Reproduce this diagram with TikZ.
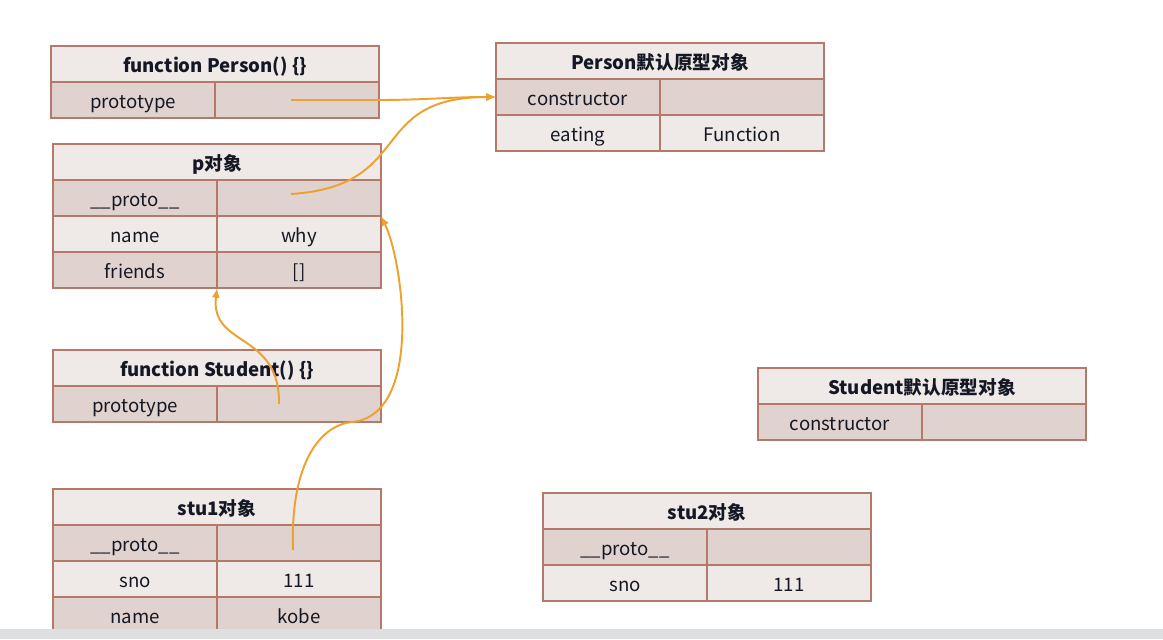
\documentclass[tikz,border=0pt]{standalone}
\usepackage{fontspec}
\setmainfont{Noto Sans CJK SC}
\usepackage{xcolor}
\usetikzlibrary{arrows.meta,positioning,calc}

\definecolor{edge}{HTML}{B47A69}
\definecolor{lite}{HTML}{EFE9E7}
\definecolor{dark}{HTML}{E0D3CF}
\definecolor{ink}{HTML}{141824}
\definecolor{link}{HTML}{EFA02E}
\definecolor{bar}{HTML}{DEDFE1}

\begin{document}
\begin{tikzpicture}[x=0.02cm,y=-0.02cm,>={Latex[length=5.5pt,width=4.6pt]},
  cell/.style={draw=edge,line width=0.8pt,minimum height=0.72cm,inner sep=0pt,outer sep=0pt,
    text=ink,text height=12pt,text depth=2.5pt,font=\fontsize{10.6}{12}\selectfont},
  hd/.style={cell,fill=lite,minimum width=6.56cm,font=\fontsize{10.6}{12}\selectfont\bfseries},
  dk/.style={cell,fill=dark,minimum width=3.28cm},
  lt/.style={cell,fill=lite,minimum width=3.28cm},
  arr/.style={->,draw=link,line width=1.1pt}]
\useasboundingbox (0,0) rectangle (1163,639);
\fill[white] (0,0) rectangle (1163,639);
% function Person
\node[hd] (pf) at (215,64) {function Person() \{\}};
\node[dk] (pfk) at (133,100) {prototype};
\node[dk] (pfv) at (297,100) {};
% Person prototype
\node[hd] (pp) at (660,61) {Person默认原型对象};
\node[dk] (ppk1) at (578,97) {constructor};
\node[dk] (ppv1) at (742,97) {};
\node[lt] (ppk2) at (578,133) {eating};
\node[lt] (ppv2) at (742,133) {Function};
% p object
\node[hd] (p) at (217,162) {p对象};
\node[dk] (pk1) at (135,198) {\_\_proto\_\_};
\node[dk] (pv1) at (299,198) {};
\node[lt] (pk2) at (135,234) {name};
\node[lt] (pv2) at (299,234) {why};
\node[dk] (pk3) at (135,270) {friends};
\node[dk] (pv3) at (299,270) {[]};
% function Student
\node[hd] (sf) at (217,368) {function Student() \{\}};
\node[dk] (sfk) at (135,404) {prototype};
\node[dk] (sfv) at (299,404) {};
% stu1
\node[hd] (s1) at (217,507) {stu1对象};
\node[dk] (s1k1) at (135,543) {\_\_proto\_\_};
\node[dk] (s1v1) at (299,543) {};
\node[lt] (s1k2) at (135,579) {sno};
\node[lt] (s1v2) at (299,579) {111};
\node[dk] (s1k3) at (135,615) {name};
\node[dk] (s1v3) at (299,615) {kobe};
% Student prototype
\node[hd] (sp) at (922,386) {Student默认原型对象};
\node[dk] (spk1) at (840,422) {constructor};
\node[dk] (spv1) at (1004,422) {};
% stu2
\node[hd] (s2) at (707,511) {stu2对象};
\node[dk] (s2k1) at (625,547) {\_\_proto\_\_};
\node[dk] (s2v1) at (789,547) {};
\node[lt] (s2k2) at (625,583) {sno};
\node[lt] (s2v2) at (789,583) {111};
% links
\draw[arr] ([xshift=-0.12cm]pfv.center) -- ++(87,0) to[out=0,in=180] (ppk1.west);
\draw[arr] ([xshift=-0.16cm,yshift=0.08cm]pv1.center) .. controls +(125,-8) and +(-130,0) .. (ppk1.west);
\draw[arr] ([xshift=-0.4cm]sfv.center) .. controls +(1,-73) and +(-7,60) .. (pk3.south east);
\coordinate (s1bend) at (352,422);
\draw[arr] ([xshift=-0.12cm,yshift=-0.14cm]s1v1.center) .. controls +(-3,-90) and +(-30,3) .. (s1bend)
  .. controls +(72,-7) and +(22,45) .. (pv2.north east);
\fill[bar] (0,629) rectangle (1163,639);
\end{tikzpicture}
\end{document}
